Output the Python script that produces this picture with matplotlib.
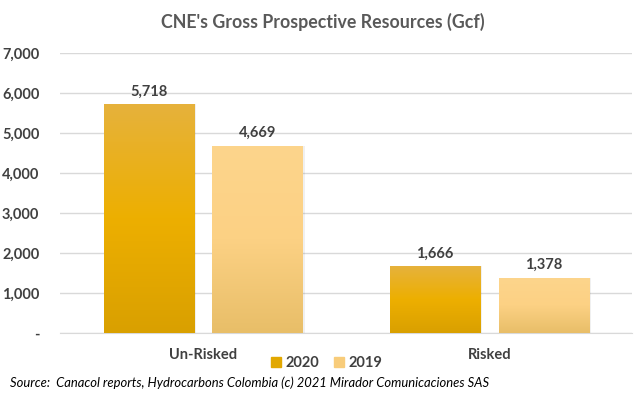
import numpy as np
import matplotlib.pyplot as plt
from matplotlib.colors import LinearSegmentedColormap
from matplotlib.patches import Patch

categories = ['Un-Risked', 'Risked']
years = ['2020', '2019']
values_2020 = [5718, 1666]
values_2019 = [4669, 1378]
yticks = [0, 1000, 2000, 3000, 4000, 5000, 6000, 7000]
ytick_labels = ['-', '1,000', '2,000', '3,000', '4,000', '5,000', '6,000', '7,000']

plt.rcParams['font.family'] = ['Lato', 'DejaVu Sans']

# gradients bottom -> top, like the Excel fill
cmap_2020 = LinearSegmentedColormap.from_list('g2020', ['#D9A000', '#EDAF00', '#E6B23C'])
cmap_2019 = LinearSegmentedColormap.from_list('g2019', ['#E8BE68', '#FCD184', '#FDD58C'])

fig = plt.figure(figsize=(6.4, 3.96), dpi=100)
ax = fig.add_axes([0.094, 0.159, 0.894, 0.707])

x = np.arange(len(categories))
w = 0.315
off = 0.19

grad = np.linspace(0, 1, 256).reshape(-1, 1)
for vals, dx, cmap in [(values_2020, -off, cmap_2020), (values_2019, off, cmap_2019)]:
    bars = ax.bar(x + dx, vals, width=w, color='none', edgecolor='none', zorder=3)
    for b, v in zip(bars, vals):
        x0 = b.get_x()
        # faint shadow
        ax.bar(x0 + w / 2 + 0.004, v, width=w + 0.008, color='#000000', alpha=0.06, zorder=2)
        im = ax.imshow(grad, cmap=cmap, origin='lower', aspect='auto',
                       extent=[x0, x0 + w, 0, v], zorder=3)
        im.set_clip_path(b)
        ax.text(x0 + w / 2, v + 150, f'{v:,}', ha='center', va='bottom',
                fontsize=10.5, fontweight='bold', color='#404040', zorder=4)

ax.set_xlim(-0.5, 1.5)
ax.set_ylim(0, 7000)
ax.set_yticks(yticks)
ax.set_yticklabels(ytick_labels)
ax.set_xticks(x)
ax.set_xticklabels(categories)
ax.grid(axis='y', color='#D9D9D9', lw=1, zorder=0)
ax.set_axisbelow(True)
for s in ['top', 'right', 'left']:
    ax.spines[s].set_visible(False)
ax.spines['bottom'].set_color('#D9D9D9')
ax.tick_params(axis='y', length=0, pad=15, labelsize=10.5, labelcolor='#404040')
ax.tick_params(axis='x', length=0, pad=11, labelsize=10.5, labelcolor='#404040')
for lbl in ax.get_yticklabels() + ax.get_xticklabels():
    lbl.set_fontweight('bold')

fig.text(0.505, 0.944, "CNE's Gross Prospective Resources (Gcf)", ha='center', va='center',
         fontsize=12.8, fontweight='bold', color='#595959')

handles = [Patch(color='#E2A800'), Patch(color='#F8CC7A')]
fig.legend(handles, years, loc='center', bbox_to_anchor=(0.51, 0.083), ncol=2, frameon=False,
           handlelength=0.7, handleheight=0.7, handletextpad=0.3, columnspacing=1.0,
           prop={'weight': 'bold', 'size': 10.5})
for t in fig.legends[0].get_texts():
    t.set_color('#404040')

fig.text(0.015, 0.033, 'Source:  Canacol reports, Hydrocarbons Colombia (c) 2021 Mirador Comunicaciones SAS',
         ha='left', va='center', fontsize=9.4, style='italic', color='#000000')

fig.savefig('out.png', dpi=100)
